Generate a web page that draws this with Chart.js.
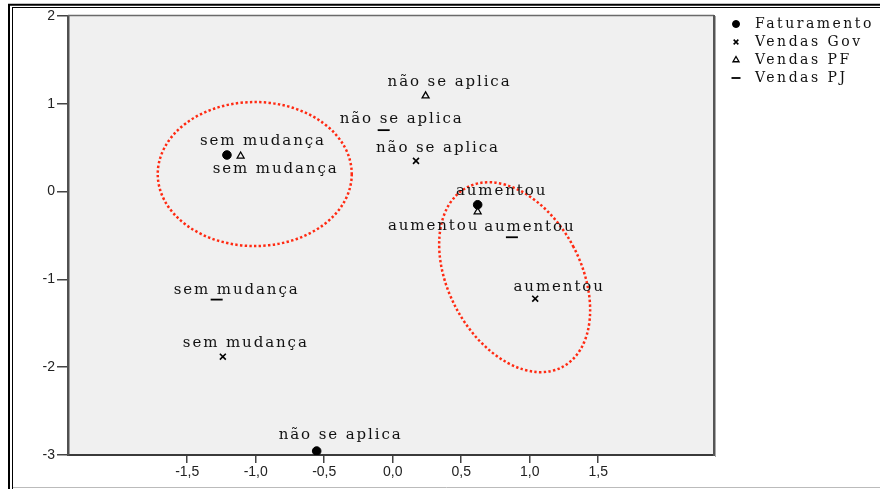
<!DOCTYPE html>
<html><head><meta charset="utf-8">
<script src="https://cdn.jsdelivr.net/npm/chart.js@4.4.0/dist/chart.umd.min.js"></script>
<style>html,body{margin:0;padding:0;background:#fff;overflow:hidden;}</style>
</head><body>
<canvas id="c" width="880" height="489"></canvas>
<script>
// ---- data ----
const categories = ['aumentou', 'não se aplica', 'sem mudança'];
const seriesNames = ['Faturamento', 'Vendas Gov', 'Vendas PF', 'Vendas PJ'];
const faturamentoX = [0.62, -0.555, -1.21];
const faturamentoY = [-0.15, -2.955, 0.417];
const vendasGovX = [1.04, 0.17, -1.24];
const vendasGovY = [-1.22, 0.35, -1.88];
const vendasPFX = [0.62, 0.24, -1.11];
const vendasPFY = [-0.23, 1.09, 0.405];
const vendasPJX = [0.87, -0.066, -1.285];
const vendasPJY = [-0.52, 0.70, -1.23];
const xTickValues = [-1.5, -1, -0.5, 0, 0.5, 1, 1.5];
const yTickValues = [-3, -2, -1, 0, 1, 2];

const seriesX = [faturamentoX, vendasGovX, vendasPFX, vendasPJX];
const seriesY = [faturamentoY, vendasGovY, vendasPFY, vendasPJY];

// ---- styles ----
const markerStyles = [
  {pointStyle: 'circle', radius: 4.3, borderWidth: 1, fill: '#000', legendRadius: 3.5},
  {pointStyle: 'crossRot', radius: 4.2, borderWidth: 1.6, fill: 'rgba(0,0,0,0)', legendRadius: 3.3},
  {pointStyle: 'triangle', radius: 4, borderWidth: 1.3, fill: 'rgba(0,0,0,0)', legendRadius: 3.5},
  {pointStyle: 'line', radius: 6, borderWidth: 1.8, fill: 'rgba(0,0,0,0)', legendRadius: 4.5}
];
const labelOffsets = [
  [[23, -14], [23, -16], [35, -14]],
  [[23, -12], [21, -13], [22, -14]],
  [[-45, 14], [23, -14], [34, 13]],
  [[17, -10], [17, -11], [19, -9]]
];
const serifFont = '"DejaVu Serif", serif';

function comma(v, d) { return v.toFixed(d).replace('.', ',').replace('-0,0', '0,0'); }

const datasets = seriesNames.map((name, s) => ({
  label: name,
  data: seriesX[s].map((x, i) => ({x: x, y: seriesY[s][i]})),
  pointStyle: markerStyles[s].pointStyle,
  pointRadius: markerStyles[s].radius,
  pointHoverRadius: markerStyles[s].radius,
  pointBorderWidth: markerStyles[s].borderWidth,
  pointBackgroundColor: markerStyles[s].fill,
  pointBorderColor: '#000',
  showLine: false
}));

function drawSpaced(ctx, text, cx, cy, spacing) {
  ctx.letterSpacing = spacing + 'px';
  const w = ctx.measureText(text).width - spacing;
  ctx.textAlign = 'left';
  ctx.textBaseline = 'middle';
  ctx.fillText(text, cx - w / 2, cy);
  ctx.letterSpacing = '0px';
}

const plotBg = {
  id: 'plotBg',
  beforeDraw(chart) {
    const {ctx, chartArea: a} = chart;
    ctx.save();
    ctx.fillStyle = '#fff';
    ctx.fillRect(0, 0, chart.width, chart.height);
    ctx.fillStyle = '#f0f0f0';
    ctx.fillRect(a.left, a.top, a.right - a.left, a.bottom - a.top);
    ctx.restore();
  }
};

const ellipses = {
  id: 'ellipses',
  afterDatasetsDraw(chart, args, opts) {
    const {ctx, scales: {x, y}} = chart;
    const pxX = Math.abs(x.getPixelForValue(1) - x.getPixelForValue(0));
    const pxY = Math.abs(y.getPixelForValue(1) - y.getPixelForValue(0));
    ctx.save();
    ctx.strokeStyle = opts.color;
    ctx.lineWidth = 2.5;
    ctx.setLineDash([2.4, 2.3]);
    opts.items.forEach(e => {
      ctx.beginPath();
      ctx.ellipse(x.getPixelForValue(e.cx), y.getPixelForValue(e.cy), e.rx * pxX, e.ry * pxY, e.rot, 0, Math.PI * 2);
      ctx.stroke();
    });
    ctx.restore();
  }
};

const pointLabels = {
  id: 'pointLabels',
  afterDatasetsDraw(chart, args, opts) {
    const ctx = chart.ctx;
    ctx.save();
    ctx.fillStyle = '#111';
    ctx.font = opts.font;
    chart.data.datasets.forEach((ds, s) => {
      const meta = chart.getDatasetMeta(s);
      meta.data.forEach((pt, i) => {
        const off = opts.offsets[s][i];
        drawSpaced(ctx, categories[i], pt.x + off[0], pt.y + off[1], opts.spacing);
      });
    });
    ctx.restore();
  }
};

const sideLegend = {
  id: 'sideLegend',
  afterDraw(chart, args, opts) {
    const ctx = chart.ctx;
    ctx.save();
    chart.data.datasets.forEach((ds, s) => {
      const yy = opts.top + s * opts.step;
      const m = markerStyles[s];
      ctx.fillStyle = m.fill;
      ctx.strokeStyle = '#000';
      ctx.lineWidth = m.borderWidth;
      Chart.helpers.drawPoint(ctx, {pointStyle: m.pointStyle, radius: m.legendRadius, borderWidth: m.borderWidth, rotation: 0}, opts.markerX, yy);
      ctx.fillStyle = '#111';
      ctx.font = opts.font;
      ctx.letterSpacing = opts.spacing + 'px';
      ctx.textAlign = 'left';
      ctx.textBaseline = 'middle';
      ctx.fillText(ds.label, opts.textX, yy);
      ctx.letterSpacing = '0px';
    });
    ctx.restore();
  }
};

const frame = {
  id: 'frame',
  afterDraw(chart) {
    const {ctx, chartArea: a} = chart;
    const W = chart.width, H = chart.height;
    ctx.save();
    ctx.strokeStyle = '#6a6a6a';
    ctx.lineWidth = 1.5;
    ctx.beginPath();
    ctx.moveTo(a.left, a.top - 0.5); ctx.lineTo(a.right, a.top - 0.5);
    ctx.stroke();
    ctx.strokeStyle = '#555';
    ctx.lineWidth = 2;
    ctx.beginPath();
    ctx.moveTo(a.right, a.top - 1); ctx.lineTo(a.right, a.bottom + 1);
    ctx.stroke();
    ctx.strokeStyle = '#aaa';
    ctx.lineWidth = 1;
    ctx.beginPath();
    ctx.moveTo(a.right + 1.5, a.top); ctx.lineTo(a.right + 1.5, a.bottom + 2);
    ctx.stroke();
    ctx.strokeStyle = '#000';
    ctx.lineWidth = 2;
    ctx.beginPath();
    ctx.moveTo(8, 4.8); ctx.lineTo(W, 4.8);
    ctx.moveTo(9, 4); ctx.lineTo(9, H);
    ctx.stroke();
    ctx.lineWidth = 1;
    ctx.beginPath();
    ctx.moveTo(12, 7.5); ctx.lineTo(W, 7.5);
    ctx.moveTo(12.5, 7); ctx.lineTo(12.5, H);
    ctx.stroke();
    ctx.strokeStyle = '#bbb';
    ctx.beginPath();
    ctx.moveTo(13, 487.5); ctx.lineTo(W, 487.5);
    ctx.stroke();
    ctx.restore();
  }
};

new Chart(document.getElementById('c'), {
  type: 'scatter',
  data: {datasets: datasets},
  plugins: [plotBg, ellipses, pointLabels, sideLegend, frame],
  options: {
    responsive: false,
    devicePixelRatio: 1,
    animation: false,
    events: [],
    layout: {padding: {left: 13, right: 166, top: 16, bottom: 4}},
    plugins: {
      legend: {display: false},
      tooltip: {enabled: false},
      title: {display: false},
      ellipses: {
        color: '#ff2a12',
        items: [
          {cx: -1.007, cy: 0.20, rx: 0.708, ry: 0.82, rot: 0},
          {cx: 0.89, cy: -0.975, rx: 0.483, ry: 1.158, rot: -0.49}
        ]
      },
      pointLabels: {font: '15px ' + serifFont, spacing: 1.9, offsets: labelOffsets},
      sideLegend: {font: '14px ' + serifFont, spacing: 2.5, markerX: 736, textX: 755, top: 24, step: 18}
    },
    scales: {
      x: {
        type: 'linear', min: -2.37, max: 2.345,
        afterBuildTicks: s => { s.ticks = xTickValues.map(v => ({value: v})); },
        afterFit: s => { s.height = 30; },
        ticks: {callback: v => comma(v, 1), font: {family: 'Liberation Sans', size: 14}, color: '#222', padding: 1, maxRotation: 0, autoSkip: false},
        grid: {display: true, drawOnChartArea: false, drawTicks: true, tickLength: 8, color: '#444', lineWidth: 1.5},
        border: {display: true, color: '#3a3a3a', width: 2}
      },
      y: {
        type: 'linear', min: -3, max: 2,
        afterBuildTicks: s => { s.ticks = yTickValues.map(v => ({value: v})); },
        afterFit: s => { s.width = 55; },
        ticks: {callback: v => String(v), font: {family: 'Liberation Sans', size: 14}, color: '#222', padding: 2, autoSkip: false},
        grid: {display: true, drawOnChartArea: false, drawTicks: true, tickLength: 11, color: '#444', lineWidth: 1.5},
        border: {display: true, color: '#505050', width: 2.5}
      }
    }
  }
});
</script>
</body></html>
